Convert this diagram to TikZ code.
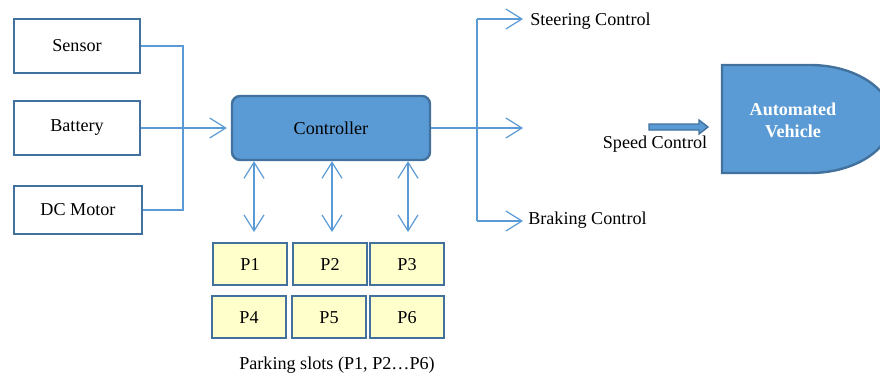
\documentclass[tikz,border=0pt]{standalone}
\usepackage{fontspec}
\setmainfont{Liberation Serif}
\usetikzlibrary{arrows.meta}
\definecolor{lineblue}{RGB}{91,155,213}
\definecolor{darkblue}{RGB}{65,113,156}
\definecolor{fillblue}{RGB}{91,155,213}
\definecolor{slotyellow}{RGB}{255,255,204}
\tikzset{
  lbl/.style={font=\fontsize{13.6}{16.5}\selectfont, inner sep=0pt},
  inbox/.style={draw=darkblue, line width=1.8pt, fill=white, minimum width=94.5pt, minimum height=40.5pt, inner sep=0pt, font=\fontsize{13.6}{16.5}\selectfont},
  ctrlbox/.style={draw=darkblue, line width=1.8pt, fill=fillblue, rounded corners=6pt, minimum width=148.5pt, minimum height=48pt, inner sep=0pt, font=\fontsize{13.6}{16.5}\selectfont},
  slot/.style={draw=darkblue, line width=2pt, fill=slotyellow, minimum width=55.5pt, minimum height=31.5pt, inner sep=0pt, text height=9.2pt, text depth=0pt, font=\fontsize{13.6}{16.5}\selectfont},
  conn/.style={draw=lineblue, line width=0.9pt},
  barb/.style={-{Straight Barb[length=12pt,width=15pt]}},
  dbarb/.style={{Straight Barb[length=12pt,width=15pt]}-{Straight Barb[length=12pt,width=15pt]}},
  blockarrow/.style={draw=darkblue, fill=fillblue, line width=1pt, line join=miter},
}
\begin{document}
\begin{tikzpicture}[x=0.75pt,y=-0.75pt]
\useasboundingbox (0,0) rectangle (880,375);
% input boxes
\node[inbox] (sensor) at (77,46) {Sensor};
\node[inbox] (battery) at (77,128) {Battery};
\node[inbox, minimum width=96pt, minimum height=36pt] (motor) at (78,210) {DC Motor};
% controller
\node[ctrlbox] (ctrl) at (331,128) {Controller};
% inputs
\coordinate (jx) at (183,128);
\draw[conn] (sensor.east) -| (jx) |- (motor.east);
\draw[conn, barb] (battery.east) -- ([xshift=-3pt]ctrl.west);
% parking slots
\node[slot] (p1) at (250,264) {P1};
\node[slot] (p2) at (330,264) {P2};
\node[slot] (p3) at (407,264) {P3};
\node[slot] (p4) at (249,317) {P4};
\node[slot] (p5) at (329,317) {P5};
\node[slot] (p6) at (407,317) {P6};
\node[lbl] (cap) at (337,365) {Parking slots (P1, P2\ldots P6)};
% double arrows
\coordinate (d1) at (254,232);
\coordinate (d2) at (332,232);
\coordinate (d3) at (408,232);
\draw[conn, dbarb] (ctrl.south -| d1) -- (d1);
\draw[conn, dbarb] (ctrl.south -| d2) -- (d2);
\draw[conn, dbarb] (ctrl.south -| d3) -- (d3);
% outputs
\coordinate (br) at (477,128);
\coordinate (outm) at (523,128);
\coordinate (bt) at (477,19);
\coordinate (bb) at (477,221);
\coordinate (outt) at (523,19);
\coordinate (outb) at (523,221);
\draw[conn, barb] (ctrl.east) -- (outm);
\draw[conn] (bt) -- (bb);
\draw[conn, barb] (bt) -- (outt);
\draw[conn, barb] (bb) -- (outb);
\node[lbl, anchor=west] (steer) at (530,21) {Steering Control};
\node[lbl, anchor=west] (brake) at (528,220) {Braking Control};
% speed arrow
\draw[blockarrow] (649,124) -- (699,124) -- (699,120) -- (708,127) -- (699,134) -- (699,130) -- (649,130) -- cycle;
\node[lbl] (speedl) at (655,144) {Speed Control};
% vehicle
\begin{scope}
\clip (0,0) rectangle (880,375);
\draw[draw=darkblue, fill=fillblue, line width=1.8pt] (722,65) -- (810,65) arc[start angle=90, end angle=-90, x radius=61.5pt, y radius=40.5pt] -- (722,173) -- cycle;
\end{scope}
\node[font=\fontsize{13.6}{16.5}\selectfont\bfseries, text=white, align=center, inner sep=0pt] (veh) at (793,120) {Automated\\Vehicle};
\end{tikzpicture}
\end{document}
